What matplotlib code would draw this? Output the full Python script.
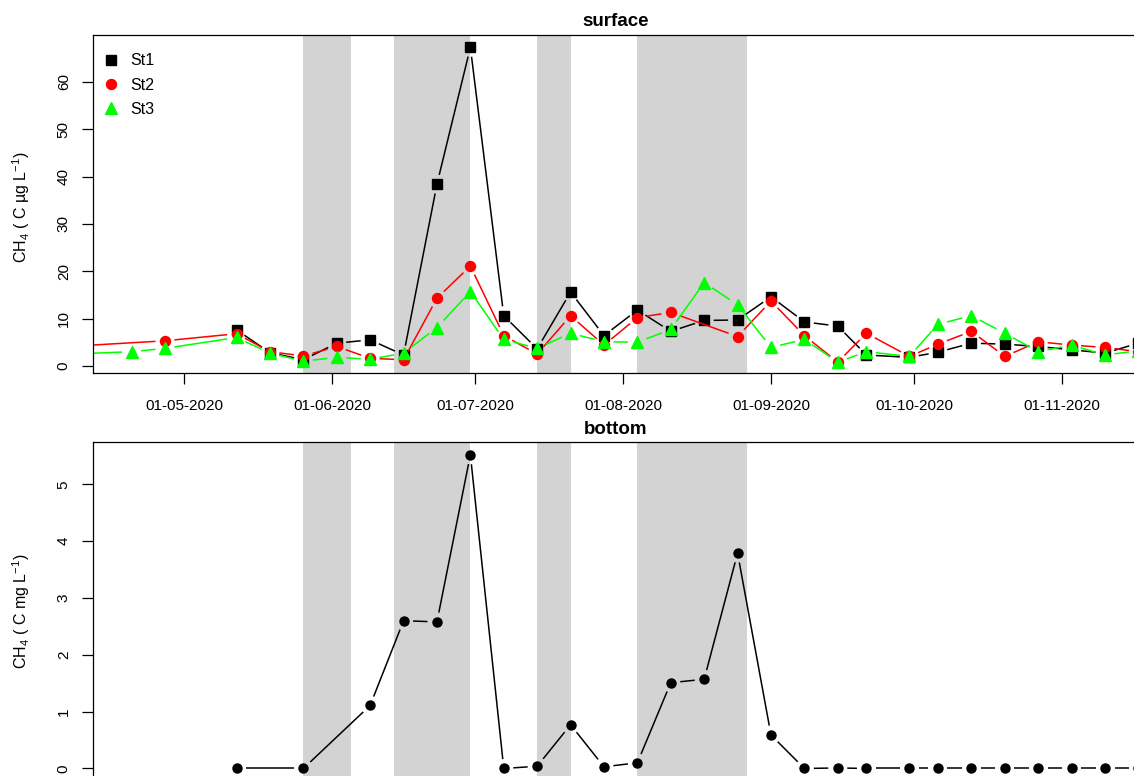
import numpy as np
import pandas as pd
import matplotlib
matplotlib.use("Agg")
import matplotlib.pyplot as plt
import matplotlib.dates as mdates
from matplotlib.lines import Line2D

plt.rcParams['font.family'] = ['Liberation Sans', 'DejaVu Sans']
plt.rcParams['mathtext.fontset'] = 'custom'
plt.rcParams['mathtext.rm'] = 'Liberation Sans'
plt.rcParams['mathtext.it'] = 'Liberation Sans:italic'

# sampling dates (weekly), last one lies just past the right edge
weeks = ['2020-05-12', '2020-05-19', '2020-05-26', '2020-06-02', '2020-06-09',
         '2020-06-16', '2020-06-23', '2020-06-30', '2020-07-07', '2020-07-14',
         '2020-07-21', '2020-07-28', '2020-08-04', '2020-08-11', '2020-08-18',
         '2020-08-25', '2020-09-01', '2020-09-08', '2020-09-15', '2020-09-21',
         '2020-09-30', '2020-10-06', '2020-10-13', '2020-10-20', '2020-10-27',
         '2020-11-03', '2020-11-10', '2020-11-17']

st1_dates = weeks
st1 = [7.6, 2.8, 1.3, 4.8, 5.5, 2.3, 38.4, 67.3, 10.6, 3.6, 15.6, 6.4, 11.8, 7.3,
       9.6, 9.7, 14.6, 9.3, 8.4, 2.3, 1.8, 2.9, 4.8, 4.6, 4.1, 3.4, 2.7, 4.8]

st2_dates = ['2020-04-05', '2020-04-27'] + [d for d in weeks if d != '2020-08-18']
st2 = [4.0, 5.3, 6.8, 3.0, 2.1, 4.1, 1.6, 1.3, 14.3, 21.1, 6.4, 2.5, 10.6, 4.4,
       10.2, 11.3, 6.2, 13.7, 6.4, 0.8, 6.9, 2.0, 4.6, 7.3, 2.0, 5.1, 4.4, 3.9, 3.0]

st3_dates = ['2020-04-05', '2020-04-20', '2020-04-27'] + weeks
st3 = [2.4, 3.0, 3.7, 6.0, 2.7, 1.0, 1.8, 1.4, 2.7, 8.1, 15.7, 5.6, 3.7, 6.9, 5.1,
       5.0, 7.7, 17.6, 12.9, 3.9, 5.6, 0.8, 3.0, 2.0, 8.8, 10.6, 6.9, 3.0, 4.4, 2.3, 3.2]

bot_dates = [d for d in weeks if d not in ('2020-05-19', '2020-06-02')]
bot = [0, 0, 1.11, 2.6, 2.58, 5.52, 0, 0.04, 0.77, 0.03, 0.1, 1.51, 1.57, 3.79,
       0.59, 0, 0.01, 0, 0, 0, 0, 0, 0, 0, 0, 0]

# shaded periods
shade_start = ['2020-05-26', '2020-06-14', '2020-07-14', '2020-08-04']
shade_end = ['2020-06-05', '2020-06-30', '2020-07-21', '2020-08-27']

month_ticks = ['2020-05-01', '2020-06-01', '2020-07-01', '2020-08-01',
               '2020-09-01', '2020-10-01', '2020-11-01']


def dnum(lst):
    return mdates.date2num(pd.to_datetime(lst).to_pydatetime())


def draw_b(ax, dates, vals, color, marker, ms, gap=9.5):
    """R type='b': points joined by lines that stop short of each point"""
    x = dnum(dates)
    y = np.asarray(vals, dtype=float)
    pts = ax.transData.transform(np.column_stack([x, y]))
    inv = ax.transData.inverted()
    for p0, p1 in zip(pts[:-1], pts[1:]):
        d = p1 - p0
        L = np.hypot(*d)
        if L <= 2 * gap:
            continue
        u = d / L
        seg = inv.transform(np.array([p0 + u * gap, p1 - u * gap]))
        ax.plot(seg[:, 0], seg[:, 1], color=color, lw=1.1, solid_capstyle='butt')
    ax.plot(x, y, ls='none', marker=marker, ms=ms, color=color, mec=color)


W, H = 1134, 776
fig = plt.figure(figsize=(W / 100, H / 100), dpi=100)
ax1 = fig.add_axes([93 / W, 1 - 373 / H, 1047 / W, 338 / H])
ax2 = fig.add_axes([93 / W, 1 - 781 / H, 1047 / W, 339 / H])

xlim = (mdates.date2num(pd.Timestamp('2020-04-11 22:00')),
        mdates.date2num(pd.Timestamp('2020-11-17 08:00')))
ax1.set_ylim(-1.5, 69.9)
ax2.set_ylim(-0.22, 5.745)

for ax in (ax1, ax2):
    ax.set_xlim(*xlim)
    for s, e in zip(dnum(shade_start), dnum(shade_end)):
        ax.axvspan(s, e, color='#d3d3d3', lw=0, zorder=0)
    ax.set_xticks(dnum(month_ticks))
    ax.xaxis.set_major_formatter(mdates.DateFormatter('%d-%m-%Y'))
    ax.tick_params(axis='both', direction='out', length=8, width=0.9,
                   labelsize=11, color='black')
    ax.tick_params(axis='x', pad=11)
    ax.tick_params(axis='y', pad=8)
    for sp in ax.spines.values():
        sp.set_linewidth(0.9)
        sp.set_color('black')

# the lower panel's date labels fall below the picture's edge
ax2.tick_params(axis='x', labelbottom=False)

ax1.set_yticks([0, 10, 20, 30, 40, 50, 60])
ax2.set_yticks([0, 1, 2, 3, 4, 5])
for ax in (ax1, ax2):
    plt.setp(ax.get_yticklabels(), rotation=90, va='center')

draw_b(ax1, st1_dates, st1, 'black', 's', 6.5)
draw_b(ax1, st2_dates, st2, '#ff0000', 'o', 7.2)
draw_b(ax1, st3_dates, st3, '#00ff00', '^', 8)
draw_b(ax2, bot_dates, bot, 'black', 'o', 6.5)

handles = [Line2D([], [], ls='none', marker='s', ms=6.5, color='black'),
           Line2D([], [], ls='none', marker='o', ms=7.2, color='#ff0000'),
           Line2D([], [], ls='none', marker='^', ms=8, color='#00ff00')]
ax1.legend(handles, ['St1', 'St2', 'St3'], loc='upper left',
           bbox_to_anchor=(0.0105, 0.946), frameon=False, fontsize=11.5,
           borderpad=0, borderaxespad=0, handlelength=0.9, handletextpad=0.75,
           labelspacing=0.58)

fig.text(616 / W, 1 - 21 / H, 'surface', ha='center', va='center',
         fontsize=13.5, fontweight='bold')
fig.text(616 / W, 1 - 430 / H, 'bottom', ha='center', va='center',
         fontsize=13.5, fontweight='bold')
fig.text(21 / W, 1 - 207 / H, r'CH$_4$ ( C µg L$^{-1}$)', ha='center',
         va='center', rotation=90, fontsize=11.5)
fig.text(21 / W, 1 - 611 / H, r'CH$_4$ ( C mg L$^{-1}$)', ha='center',
         va='center', rotation=90, fontsize=11.5)

fig.savefig('out.png', dpi=100)
